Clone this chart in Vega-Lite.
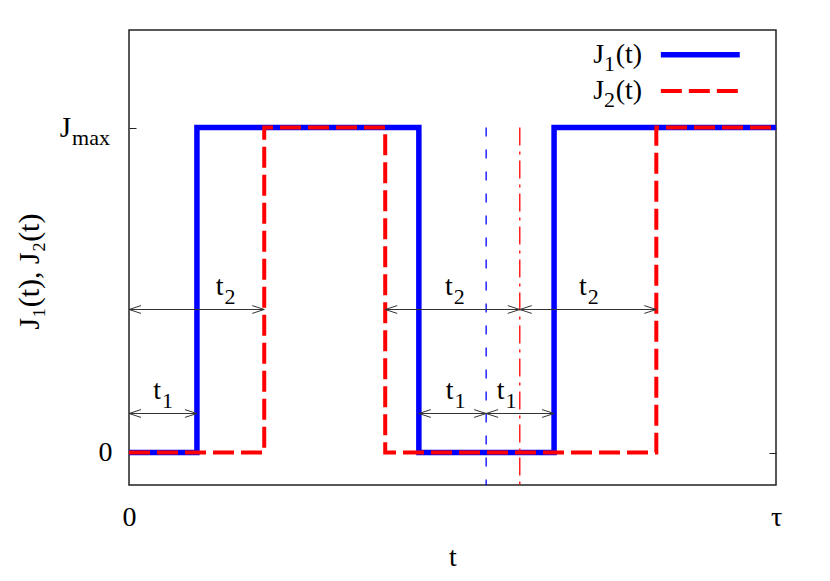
{
  "$schema": "https://vega.github.io/schema/vega-lite/v6.json",
  "width": 647,
  "height": 455,
  "autosize": "none",
  "padding": {"left": 129, "top": 30, "right": 54, "bottom": 96},
  "background": "white",
  "config": {
    "view": {"stroke": "#222", "strokeWidth": 1.5},
    "text": {"font": "Liberation Serif", "color": "black"},
    "axis": {"labelFont": "Liberation Serif", "titleFont": "Liberation Serif", "labelColor": "black", "titleColor": "black", "grid": false, "titleFontWeight": "normal"}
  },
  "datasets": {
    "lines": [
      {"series": "J1", "t": 0, "J": 0},
      {"series": "J1", "t": 10.5, "J": 1},
      {"series": "J1", "t": 44.8, "J": 0},
      {"series": "J1", "t": 65.7, "J": 1},
      {"series": "J1", "t": 100, "J": 1},
      {"series": "J2", "t": 0, "J": 0},
      {"series": "J2", "t": 20.9, "J": 1},
      {"series": "J2", "t": 39.6, "J": 0},
      {"series": "J2", "t": 81.5, "J": 1},
      {"series": "J2", "t": 100, "J": 1}
    ],
    "arrows": [
      {"a": 0, "b": 10.5, "lx": 4.8, "h": 0.12, "sub": "1"},
      {"a": 0, "b": 20.9, "lx": 14.45, "h": 0.44, "sub": "2"},
      {"a": 39.6, "b": 60.4, "lx": 49.9, "h": 0.44, "sub": "2"},
      {"a": 44.8, "b": 55.2, "lx": 50.0, "h": 0.12, "sub": "1"},
      {"a": 55.2, "b": 65.7, "lx": 57.9, "h": 0.12, "sub": "1"},
      {"a": 60.4, "b": 81.5, "lx": 70.6, "h": 0.44, "sub": "2"}
    ],
    "legend": [
      {"series": "J1", "sub": "1", "tx": 79.3, "x1": 82.2, "x2": 94.4, "y": 1.224},
      {"series": "J2", "sub": "2", "tx": 79.3, "x1": 82.2, "x2": 94.4, "y": 1.112}
    ],
    "markers": [
      {"series": "J1", "t": 55.2},
      {"series": "J2", "t": 60.4}
    ],
    "ylab": [{"t": 0, "J": 1}]
  },
  "resolve": {"axis": {"y": "independent"}},
  "layer": [
    {
      "layer": [
        {
          "data": {"name": "lines"},
          "mark": {"type": "line", "interpolate": "step-after", "strokeCap": "butt", "strokeJoin": "miter"},
          "encoding": {
            "x": {"field": "t", "type": "quantitative", "scale": {"domain": [0, 100], "nice": false, "zero": false},
              "axis": {"values": [0, 100], "labelExpr": "datum.value == 0 ? '0' : 'τ'", "labelFlush": false, "ticks": false, "domain": false, "labelFontSize": 28, "labelPadding": 18, "title": "t", "titleFontSize": 28, "titlePadding": 12}},
            "y": {"field": "J", "type": "quantitative", "scale": {"domain": [-0.1, 1.3], "nice": false, "zero": false},
              "axis": {"values": [0, 1], "labelExpr": "datum.value == 0 ? '0' : ''", "tickSize": -7, "tickColor": "#222", "domain": false, "labelFontSize": 28, "labelPadding": 24, "title": "J₁(t), J₂(t)", "titleFontSize": 30, "titleX": -85, "titleY": 241}},
            "color": {"field": "series", "type": "nominal", "scale": {"domain": ["J1", "J2"], "range": ["#0000ff", "#ff0000"]}, "legend": null},
            "strokeDash": {"field": "series", "type": "nominal", "scale": {"domain": ["J1", "J2"], "range": [[1, 0], [21, 7]]}, "legend": null},
            "strokeWidth": {"field": "series", "type": "nominal", "scale": {"domain": ["J1", "J2"], "range": [5.5, 4]}, "legend": null}
          }
        },
        {
          "data": {"name": "markers"},
          "transform": [{"filter": "datum.series == 'J1'"}],
          "mark": {"type": "rule", "strokeWidth": 1.3, "color": "#0000ff", "strokeDash": [9, 13]},
          "encoding": {
            "x": {"field": "t", "type": "quantitative"},
            "y": {"datum": 1},
            "y2": {"datum": -0.1}
          }
        },
        {
          "data": {"name": "markers"},
          "transform": [{"filter": "datum.series == 'J2'"}],
          "mark": {"type": "rule", "strokeWidth": 1.3, "color": "#ff0000", "strokeDash": [18, 6, 3, 6]},
          "encoding": {
            "x": {"field": "t", "type": "quantitative"},
            "y": {"datum": 1},
            "y2": {"datum": -0.1}
          }
        },
        {
          "data": {"name": "arrows"},
          "mark": {"type": "rule", "color": "#333", "strokeWidth": 1},
          "encoding": {
            "x": {"field": "a", "type": "quantitative"},
            "x2": {"field": "b"},
            "y": {"field": "h", "type": "quantitative"}
          }
        },
        {
          "data": {"name": "arrows"},
          "mark": {"type": "point", "shape": "M 2 -0.65 L 0 0 L 2 0.65", "size": 144, "filled": false, "stroke": "#333", "strokeWidth": 1, "opacity": 1},
          "encoding": {
            "x": {"field": "a", "type": "quantitative"},
            "y": {"field": "h", "type": "quantitative"}
          }
        },
        {
          "data": {"name": "arrows"},
          "mark": {"type": "point", "shape": "M -2 -0.65 L 0 0 L -2 0.65", "size": 144, "filled": false, "stroke": "#333", "strokeWidth": 1, "opacity": 1},
          "encoding": {
            "x": {"field": "b", "type": "quantitative"},
            "y": {"field": "h", "type": "quantitative"}
          }
        },
        {
          "data": {"name": "arrows"},
          "mark": {"type": "text", "text": "t", "fontSize": 28, "align": "right", "baseline": "alphabetic", "dx": 1, "dy": -15},
          "encoding": {
            "x": {"field": "lx", "type": "quantitative"},
            "y": {"field": "h", "type": "quantitative"}
          }
        },
        {
          "data": {"name": "arrows"},
          "mark": {"type": "text", "fontSize": 22, "align": "left", "baseline": "alphabetic", "dx": 2, "dy": -6},
          "encoding": {
            "x": {"field": "lx", "type": "quantitative"},
            "y": {"field": "h", "type": "quantitative"},
            "text": {"field": "sub"}
          }
        },
        {
          "data": {"name": "legend"},
          "mark": {"type": "rule", "strokeCap": "butt"},
          "encoding": {
            "x": {"field": "x1", "type": "quantitative"},
            "x2": {"field": "x2"},
            "y": {"field": "y", "type": "quantitative"},
            "color": {"field": "series", "type": "nominal", "legend": null},
            "strokeDash": {"field": "series", "type": "nominal", "legend": null},
            "strokeWidth": {"field": "series", "type": "nominal", "legend": null}
          }
        },
        {
          "data": {"name": "legend"},
          "mark": {"type": "text", "text": "(t)", "fontSize": 28, "align": "right", "baseline": "alphabetic", "dy": 8},
          "encoding": {
            "x": {"field": "tx", "type": "quantitative"},
            "y": {"field": "y", "type": "quantitative"}
          }
        },
        {
          "data": {"name": "legend"},
          "mark": {"type": "text", "fontSize": 22, "align": "right", "baseline": "alphabetic", "dx": -27, "dy": 16},
          "encoding": {
            "x": {"field": "tx", "type": "quantitative"},
            "y": {"field": "y", "type": "quantitative"},
            "text": {"field": "sub"}
          }
        },
        {
          "data": {"name": "legend"},
          "mark": {"type": "text", "text": "J", "fontSize": 28, "align": "right", "baseline": "alphabetic", "dx": -38, "dy": 8},
          "encoding": {
            "x": {"field": "tx", "type": "quantitative"},
            "y": {"field": "y", "type": "quantitative"}
          }
        },
        {
          "data": {"name": "ylab"},
          "mark": {"type": "text", "text": "max", "fontSize": 22, "align": "right", "baseline": "alphabetic", "dx": -19, "dy": 17},
          "encoding": {
            "x": {"field": "t", "type": "quantitative"},
            "y": {"field": "J", "type": "quantitative"}
          }
        },
        {
          "data": {"name": "ylab"},
          "mark": {"type": "text", "text": "J", "fontSize": 29, "align": "right", "baseline": "alphabetic", "dx": -58, "dy": 9},
          "encoding": {
            "x": {"field": "t", "type": "quantitative"},
            "y": {"field": "J", "type": "quantitative"}
          }
        }
      ]
    },
    {
      "data": {"name": "ylab"},
      "mark": {"type": "point", "opacity": 0},
      "encoding": {
        "x": {"field": "t", "type": "quantitative"},
        "y": {"field": "J", "type": "quantitative", "scale": {"domain": [-0.1, 1.3], "nice": false, "zero": false},
          "axis": {"orient": "right", "values": [0, 1], "labels": false, "tickSize": -7, "tickColor": "#222", "domain": false, "title": null}}
      }
    }
  ]
}
